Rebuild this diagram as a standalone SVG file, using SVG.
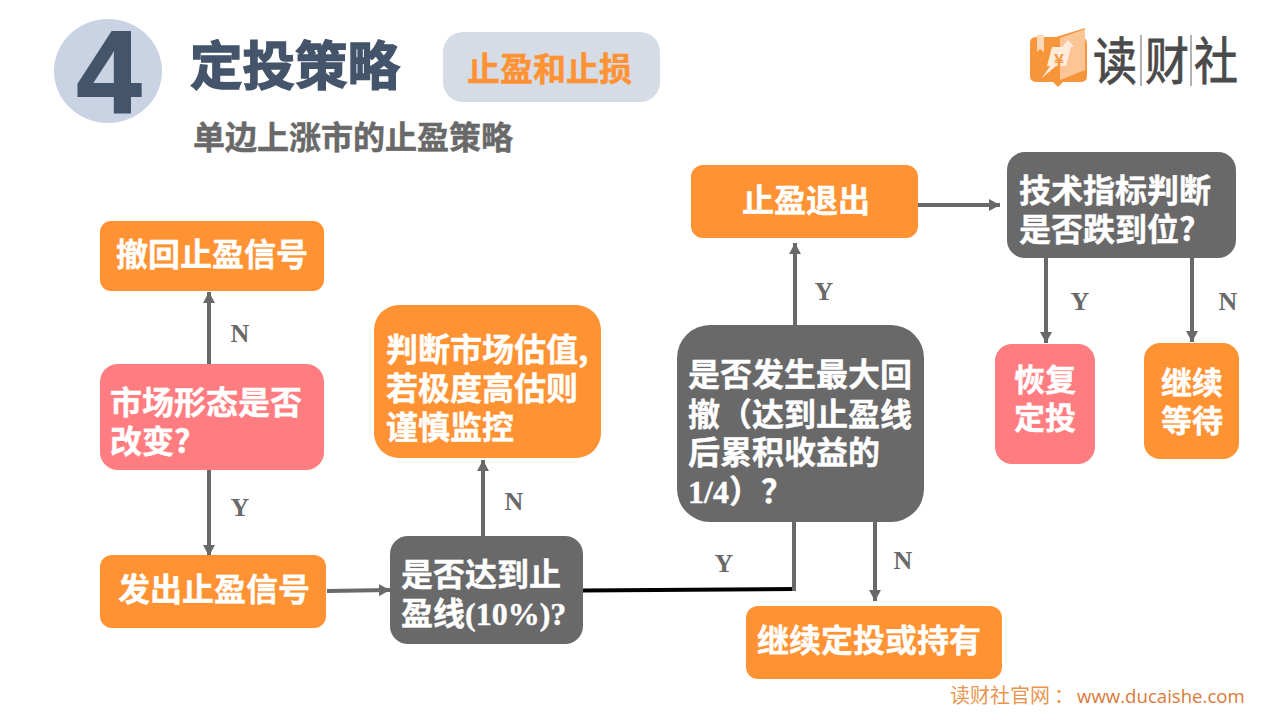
<svg xmlns="http://www.w3.org/2000/svg" width="1280" height="720" viewBox="0 0 1280 720">
<style>
text{font-family:"Noto Sans CJK SC","Liberation Sans",sans-serif;font-weight:700}
.o{fill:#ff9232}.g{fill:#696969}.p{fill:#ff7c80}
.t{fill:#fff;font-size:32px;stroke:#fff;stroke-width:.4px}
.s{font-family:"Liberation Serif","Noto Sans CJK SC",serif}
.l{fill:#696969;font-family:"Liberation Serif","Noto Sans CJK SC",serif;font-size:26px}
.c{fill:none;stroke:#696969;stroke-width:4px}
.w{fill:#4a4a4a;font-weight:400;font-size:44px;stroke:#4a4a4a;stroke-width:.7px}
</style>
<defs><marker id="ah" markerUnits="userSpaceOnUse" markerWidth="12" markerHeight="12" refX="11" refY="6" orient="auto"><path d="M0 0L11 6L0 12Z" fill="#696969"/></marker></defs>
<rect width="1280" height="720" fill="#fff"/>
<g id="header">
<ellipse cx="108" cy="71" rx="54" ry="52" fill="#c9d3e4"/>
<text x="109" y="112" text-anchor="middle" style="font-family:'Liberation Sans',sans-serif;font-size:116px" fill="#44546a" stroke="#44546a" stroke-width="2">4</text>
<text x="190" y="85" font-size="52.500" fill="#44546a" stroke="#44546a" stroke-width="1.500">定投策略</text>
<rect x="443" y="32" width="217" height="70" rx="20" fill="#d6dce5"/>
<text x="467" y="81" font-size="33" fill="#ff9232" stroke="#ff9232" stroke-width=".5">止盈和止损</text>
<text x="193" y="149" font-size="32" fill="#696969" stroke="#696969" stroke-width=".5">单边上涨市的止盈策略</text>
</g>
<g id="logo">
<path d="M1036 37H1056L1085 28V37H1082Q1087 38 1087 44V76Q1087 82 1080 82H1063L1058 87L1053 82H1037Q1030 82 1030 76V43Q1030 37 1036 37Z" fill="#f7953a"/>
<path d="M1060 38L1085 29V70L1060 80Z" fill="#fbc596"/>
<path d="M1037 35H1044V52L1040 49L1037 52Z" fill="#fbd9b8"/>
<path d="M1042 78L1050 66H1047L1052 47H1062L1068 40L1074 47H1071L1066 66H1056Z" fill="#fdebdc"/>
<text x="1059" y="66" font-size="17" fill="#f7953a" text-anchor="middle">¥</text>
<text class="w" transform="translate(1093 80) scale(1 1.15)">读</text>
<text class="w" transform="translate(1145 80) scale(1 1.15)">财</text>
<text class="w" transform="translate(1194 80) scale(1 1.15)">社</text>
<path d="M1141 35V86M1191 35V86" stroke="#666" stroke-width="1"/>
</g>
<g id="connectors">
<path class="c" marker-end="url(#ah)" d="M209 364V292"/>
<path class="c" marker-end="url(#ah)" d="M209 470V556"/>
<path class="c" marker-end="url(#ah)" d="M327 591L390 590"/>
<path class="c" marker-end="url(#ah)" d="M483 536V460"/>
<path d="M583 590.500L795 589" fill="none" stroke="#000" stroke-width="4"/>
<path class="c" d="M794 522V591"/>
<path class="c" marker-end="url(#ah)" d="M795 325V243"/>
<path class="c" marker-end="url(#ah)" d="M875 522V601"/>
<path class="c" marker-end="url(#ah)" d="M918 205H1000"/>
<path class="c" marker-end="url(#ah)" d="M1046 258V343"/>
<path class="c" marker-end="url(#ah)" d="M1192 258V342"/>
</g>
<g id="labels">
<text class="l" x="240" y="342" text-anchor="middle">N</text>
<text class="l" x="240" y="516" text-anchor="middle">Y</text>
<text class="l" x="514" y="510" text-anchor="middle">N</text>
<text class="l" x="724" y="572" text-anchor="middle">Y</text>
<text class="l" x="903" y="569" text-anchor="middle">N</text>
<text class="l" x="824" y="300" text-anchor="middle">Y</text>
<text class="l" x="1080" y="310" text-anchor="middle">Y</text>
<text class="l" x="1228" y="310" text-anchor="middle">N</text>
</g>
<g id="n1"><rect class="o" x="100" y="221" width="224" height="70" rx="11"/><text class="t" x="212" y="266" text-anchor="middle">撤回止盈信号</text></g>
<g id="n2"><rect class="p" x="100" y="364" width="224" height="106" rx="18"/><text class="t"><tspan x="110" y="414">市场形态是否</tspan><tspan x="110" y="453">改变?</tspan></text></g>
<g id="n3"><rect class="o" x="100" y="555" width="226" height="73" rx="12"/><text class="t" x="214" y="601" text-anchor="middle">发出止盈信号</text></g>
<g id="n4"><rect class="g" x="390" y="536" width="193" height="108" rx="18"/><text class="t"><tspan x="401" y="586">是否达到止</tspan><tspan x="401" y="625">盈线<tspan class="s">(10%)?</tspan></tspan></text></g>
<g id="n5"><rect class="o" x="374" y="305" width="227" height="153" rx="25"/><text class="t"><tspan x="386" y="361">判断市场估值,</tspan><tspan x="386" y="400">若极度高估则</tspan><tspan x="386" y="439">谨慎监控</tspan></text></g>
<g id="n6"><rect class="g" x="677" y="325" width="247" height="197" rx="33"/><text class="t"><tspan x="688" y="386">是否发生最大回</tspan><tspan x="688" y="426">撤（达到止盈线</tspan><tspan x="688" y="464">后累积收益的</tspan><tspan x="688" y="503"><tspan class="s">1/4</tspan>）？</tspan></text></g>
<g id="n7"><rect class="o" x="691" y="165" width="227" height="73" rx="12"/><text class="t" x="806" y="212" text-anchor="middle">止盈退出</text></g>
<g id="n8"><rect class="g" x="1007" y="152" width="229" height="106" rx="18"/><text class="t"><tspan x="1019" y="202">技术指标判断</tspan><tspan x="1019" y="241">是否跌到位?</tspan></text></g>
<g id="n9"><rect class="p" x="995" y="344" width="100" height="120" rx="17"/><text class="t" text-anchor="middle" font-size="31" style="font-size:31px"><tspan x="1045" y="391">恢复</tspan><tspan x="1045" y="429">定投</tspan></text></g>
<g id="n10"><rect class="o" x="1144" y="343" width="95" height="116" rx="16"/><text class="t" text-anchor="middle" style="font-size:31px"><tspan x="1192" y="394">继续</tspan><tspan x="1192" y="432">等待</tspan></text></g>
<g id="n11"><rect class="o" x="746" y="606" width="256" height="73" rx="12"/><text class="t" x="869" y="652" text-anchor="middle">继续定投或持有</text></g>
<text x="950" y="703" font-size="20" fill="#e8964f" style="font-weight:400">读财社官网<tspan dx="4">：</tspan></text>
<text x="1077" y="703" font-size="18.600" fill="#d9793a" style="font-family:'Open Sans','Liberation Sans',sans-serif;font-weight:400">www.ducaishe.com</text>
</svg>
